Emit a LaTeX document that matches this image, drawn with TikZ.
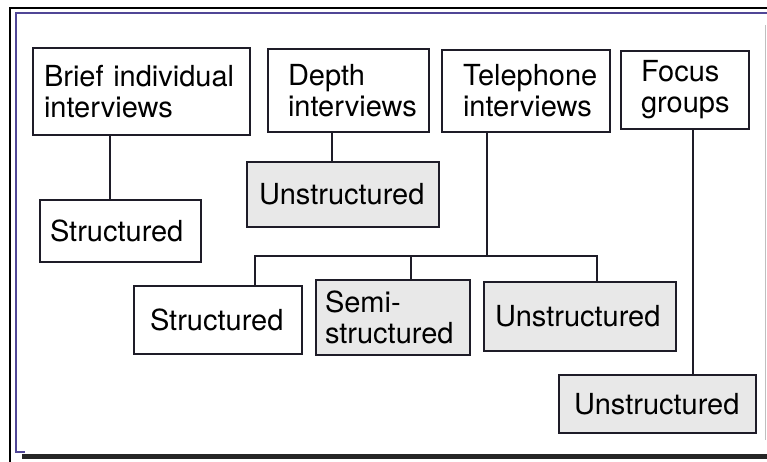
\documentclass[tikz,border=0pt]{standalone}
\usepackage{fontspec}
\setmainfont{TeX Gyre Heros}
\hyphenpenalty=10000
\definecolor{inkline}{RGB}{30,28,40}
\definecolor{frameblue}{RGB}{80,70,150}
\definecolor{stipple}{RGB}{232,232,232}
\begin{document}
\begin{tikzpicture}[x=1pt,y=-1pt,
  box/.style={draw=inkline, line width=2.2pt, rectangle, inner ysep=0pt,
    align=left, font=\fontsize{29}{31}\selectfont},
  shaded/.style={box, fill=stipple},
  link/.style={draw=inkline, line width=2pt}]
\useasboundingbox (0,0) rectangle (767,462);

% page frame
\draw[black, line width=2.6pt] (10,462) -- (10,8) -- (767,8);
\draw[frameblue, line width=2pt] (25,452) -- (16,452) -- (16,13) -- (767,13);
\draw[black!85, line width=4.5pt] (22,456.5) -- (767,456.5);
\draw[black!25, line width=1pt] (765,25) -- (765,440);

% interview methods
\node[box, minimum height=87pt, inner xsep=11pt, text width=195pt] (brief) at (141.5,91.5) {Brief individual\\interviews};
\node[box, minimum height=83pt, inner xsep=20pt, text width=121pt] (depth) at (348.5,90.5) {Depth\\interviews};
\node[box, minimum height=82pt, inner xsep=21pt, text width=126pt] (tel) at (526,91) {Telephone\\interviews};
\node[box, minimum height=78pt, inner xsep=20pt, text width=88pt] (focus) at (685,90) {Focus\\groups};

% degrees of structure
\node[box, minimum height=62pt, inner xsep=10pt, text width=141pt] (st1) at (120.5,231) {Structured};
\node[shaded, minimum height=65pt, inner xsep=12pt, text width=168pt] (un1) at (343,194.5) {Unstructured};
\node[box, minimum height=68pt, inner xsep=16pt, text width=136pt] (st2) at (218,320) {Structured};
\node[shaded, minimum height=75pt, inner xsep=9pt, text width=136pt] (semi) at (393,317.5) {Semi-\\structured};
\node[shaded, minimum height=69pt, inner xsep=11pt, text width=170pt] (un2) at (580,316.5) {Unstructured};
\node[shaded, minimum height=58pt, inner xsep=15pt, text width=167pt] (un3) at (657.5,404) {Unstructured};

% branch points
\coordinate (c1) at (110,170);
\coordinate (c2) at (332,150);
\coordinate (c3) at (693,250);
\coordinate (bT) at (487,256);
\coordinate (bL) at (255,256);
\coordinate (bM) at (411,256);
\coordinate (bR) at (597,256);

% connectors
\draw[link] (brief.south -| c1) -- (c1 |- st1.north);
\draw[link] (depth.south -| c2) -- (c2 |- un1.north);
\draw[link] (focus.south -| c3) -- (c3 |- un3.north);
\draw[link] (tel.south -| bT) -- (bT);
\draw[link] (bL |- st2.north) -- (bL) -- (bR) -- (bR |- un2.north);
\draw[link] (bM) -- (bM |- semi.north);
\end{tikzpicture}
\end{document}
